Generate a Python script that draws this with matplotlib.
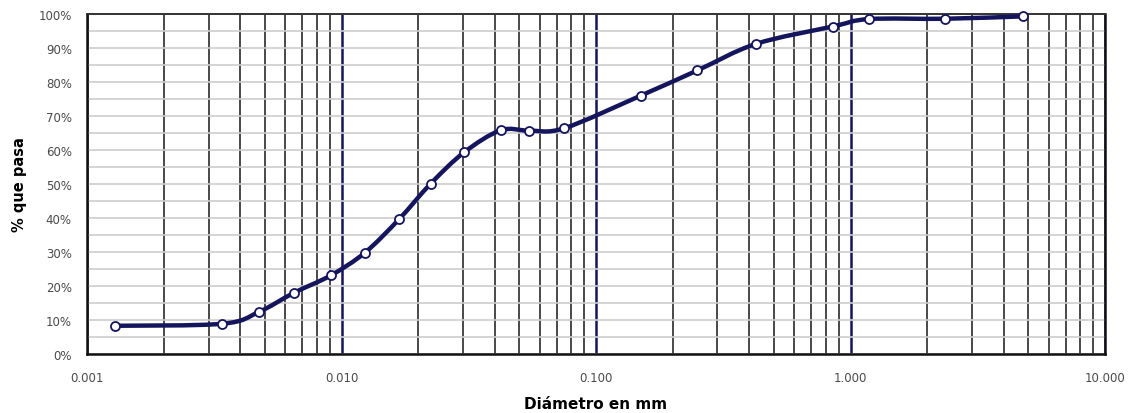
import numpy as np
import matplotlib
matplotlib.use("Agg")
from matplotlib import pyplot as plt
from matplotlib.path import Path
from matplotlib.patches import PathPatch
from matplotlib.ticker import FixedLocator, NullFormatter

# grain size distribution (hydrometer + sieves)
diametro = [0.00129, 0.0034, 0.00474, 0.0065, 0.00906, 0.01235, 0.0168, 0.0224,
            0.0303, 0.0422, 0.0546, 0.075, 0.15, 0.25, 0.425, 0.85, 1.18, 2.36, 4.75]
pasa = [8.3, 8.9, 12.4, 18.0, 23.1, 29.8, 39.6, 50.1, 59.3, 65.8, 65.7, 66.4,
        76.0, 83.4, 91.2, 96.3, 98.5, 98.6, 99.3]

x_ticks = [0.001, 0.01, 0.1, 1, 10]
x_labels = ["0.001", "0.010", "0.100", "1.000", "10.000"]
y_ticks = list(range(0, 101, 10))
y_labels = [f"{v}%" for v in y_ticks]

navy = "#15155e"
tick_col = "#4a4a4a"


def smooth_path(xs, ys):
    # Catmull-Rom style bezier through the points, built in log10(x) space
    u = np.log10(xs)
    v = np.asarray(ys, dtype=float)
    n = len(u)
    verts = [(xs[0], v[0])]
    codes = [Path.MOVETO]
    for i in range(n - 1):
        i0 = max(i - 1, 0)
        i3 = min(i + 2, n - 1)
        c1u = u[i] + (u[i + 1] - u[i0]) / 6
        c1v = v[i] + (v[i + 1] - v[i0]) / 6
        c2u = u[i + 1] - (u[i3] - u[i]) / 6
        c2v = v[i + 1] - (v[i3] - v[i]) / 6
        verts += [(10 ** c1u, c1v), (10 ** c2u, c2v), (xs[i + 1], v[i + 1])]
        codes += [Path.CURVE4] * 3
    return Path(verts, codes)


fig = plt.figure(figsize=(11.31, 4.14), dpi=100)
ax = fig.add_axes([0.077, 0.1425, 0.9, 0.8213])

ax.set_xscale("log")
ax.set_xlim(0.001, 10)
ax.set_ylim(0, 100)

ax.xaxis.set_major_locator(FixedLocator(x_ticks))
ax.set_xticklabels(x_labels)
minor_x = [m * d for d in [0.001, 0.01, 0.1, 1] for m in range(2, 10)]
ax.xaxis.set_minor_locator(FixedLocator(minor_x))
ax.xaxis.set_minor_formatter(NullFormatter())

ax.set_yticks(y_ticks)
ax.set_yticklabels(y_labels)
ax.yaxis.set_minor_locator(FixedLocator(list(range(5, 100, 10))))

ax.set_axisbelow(True)
ax.grid(which="both", axis="y", color="#cdcdcd", lw=1.2)
ax.grid(which="minor", axis="x", color="#3a3a3a", lw=1.3)
ax.grid(which="major", axis="x", color=navy, lw=1.8)

ax.tick_params(which="both", length=0)
ax.tick_params(axis="x", pad=12, labelsize=8.5, labelcolor=tick_col)
ax.tick_params(axis="y", pad=11, labelsize=8.5, labelcolor=tick_col)

for side in ["left", "bottom", "right"]:
    ax.spines[side].set_linewidth(1.8)
    ax.spines[side].set_color("#111111")
ax.spines["top"].set_linewidth(1.4)
ax.spines["top"].set_color("#333333")

ax.add_patch(PathPatch(smooth_path(diametro, pasa), fill=False,
                       edgecolor=navy, lw=3.2, zorder=3, capstyle="round"))
ax.plot(diametro, pasa, linestyle="none", marker="o", markersize=6.5,
        markerfacecolor="white", markeredgecolor=navy, markeredgewidth=1.3,
        zorder=4, clip_on=False)

ax.set_xlabel("Diámetro en mm", fontsize=11, fontweight="bold", labelpad=9)
ax.set_ylabel("% que pasa", fontsize=10.5, fontweight="bold", labelpad=8)

fig.savefig("out.png", dpi=100)
